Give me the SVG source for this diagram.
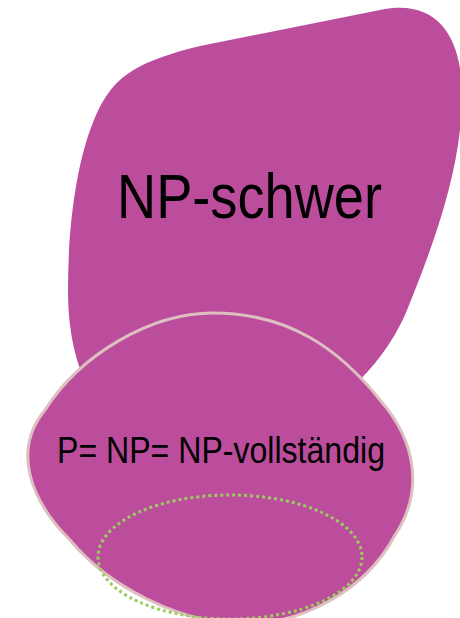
<svg xmlns="http://www.w3.org/2000/svg" width="460" height="618" viewBox="0 0 460 618">
<style>
.blob{fill:#BC4C9C}
.lbl{font-family:"Liberation Sans",Arial,sans-serif;fill:#000}
</style>
<rect width="460" height="618" fill="#fff"/>
<g id="np-schwer">
<path class="blob" d="M200,46 L385,9 C440,0 462,40 462,95 C462,160 440,230 405,315 C380,370 330,420 250,440 L150,440 C90,420 68,360 68,290 C68,200 85,110 120,80 C135,67 155,57 200,46 Z"/>
<text class="lbl" x="117" y="218" font-size="63" textLength="265" lengthAdjust="spacingAndGlyphs">NP-schwer</text>
</g>
<g id="np-vollstaendig">
<path class="blob" stroke="#DDBFC0" stroke-width="3" d="M213,313 C290,313 340,350 380,400 C415,440 425,490 395,535 C365,592 300,625 240,624 C180,622 110,588 70,540 C30,500 12,450 45,410 C80,355 150,313 213,313 Z"/>
<text class="lbl" x="57" y="463" font-size="36" textLength="328" lengthAdjust="spacingAndGlyphs">P= NP= NP-vollständig</text>
</g>
<g id="p">
<ellipse cx="230" cy="557" rx="132" ry="62" fill="none" stroke="#9CCB5F" stroke-width="3" stroke-dasharray="3 3"/>
</g>
</svg>
